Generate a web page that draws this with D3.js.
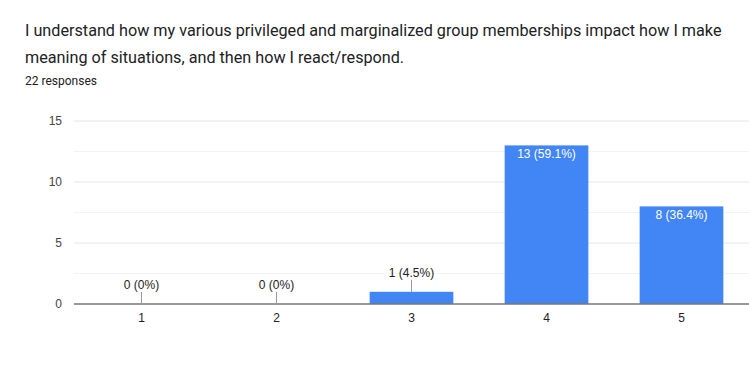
<!DOCTYPE html>
<html><head><meta charset="utf-8">
<script src="https://cdn.jsdelivr.net/npm/d3@7"></script>
<style>body{margin:0;background:#fff;} svg{display:block;}</style>
</head><body>
<svg id="c" width="749" height="381"></svg>
<script>
const titleLines = ["I understand how my various privileged and marginalized group memberships impact how I make","meaning of situations, and then how I react/respond."];
const subtitle = "22 responses";
const categories = ["1","2","3","4","5"];
const counts = [0,0,1,13,8];
const labels = ["0 (0%)","0 (0%)","1 (4.5%)","13 (59.1%)","8 (36.4%)"];
const yTicks = [0,5,10,15];
const yMinor = [2.5,7.5,12.5];

const svg = d3.select("#c");
const m = {l:74, r:749, t:121, b:304};
const x = d3.scaleBand().domain(categories).range([m.l, m.r]).paddingInner(0.38).paddingOuter(0.19);
const y = d3.scaleLinear().domain([0,15]).range([m.b, m.t]);

svg.selectAll("text.title").data(titleLines).enter().append("text")
  .attr("x",25).attr("y",(d,i)=>36+i*27).attr("font-family","Roboto").attr("font-size",16.2)
  .attr("fill","#202124").text(d=>d);
svg.append("text").attr("x",25).attr("y",85).attr("font-family","Roboto").attr("font-size",12)
  .attr("fill","#202124").text(subtitle);

svg.selectAll("line.minor").data(yMinor).enter().append("line")
  .attr("x1",m.l).attr("x2",m.r).attr("y1",d=>y(d)).attr("y2",d=>y(d)).attr("stroke","#f3f3f3");
svg.selectAll("line.major").data(yTicks.filter(d=>d>0)).enter().append("line")
  .attr("x1",m.l).attr("x2",m.r).attr("y1",d=>y(d)).attr("y2",d=>y(d)).attr("stroke","#e6e6e6");

const yAxis = svg.append("g").attr("transform",`translate(${m.l-12},0)`)
  .call(d3.axisLeft(y).tickValues(yTicks).tickSize(0).tickPadding(0));
yAxis.select(".domain").remove();
yAxis.selectAll("text").attr("font-family","Arial, Liberation Sans").attr("font-size",12).attr("fill","#444");

svg.selectAll("rect.bar").data(counts).enter().append("rect")
  .attr("x",(d,i)=>x(categories[i])).attr("width",x.bandwidth())
  .attr("y",d=>y(d)).attr("height",d=>y(0)-y(d)).attr("fill","#4285f4");

svg.append("line").attr("x1",m.l).attr("x2",m.r).attr("y1",y(0)).attr("y2",y(0))
  .attr("stroke","#777").attr("stroke-width",1.5);

const xAxis = svg.append("g").attr("transform",`translate(0,${y(0)+9})`)
  .call(d3.axisBottom(x).tickSize(0).tickPadding(0));
xAxis.select(".domain").remove();
xAxis.selectAll("text").attr("font-family","Arial, Liberation Sans").attr("font-size",12).attr("fill","#222");

counts.forEach((v,i)=>{
  const cx = x(categories[i]) + x.bandwidth()/2;
  if (v < 3) {
    svg.append("line").attr("x1",cx).attr("x2",cx).attr("y1",y(v)-12).attr("y2",y(v)).attr("stroke","#999");
    svg.append("text").attr("x",cx).attr("y",y(v)-15).attr("text-anchor","middle")
      .attr("font-family","Arial, Liberation Sans").attr("font-size",12).attr("fill","#222").text(labels[i]);
  } else {
    svg.append("text").attr("x",cx).attr("y",y(v)+13).attr("text-anchor","middle")
      .attr("font-family","Arial, Liberation Sans").attr("font-size",12).attr("fill","#fff").text(labels[i]);
  }
});
</script>
</body></html>
